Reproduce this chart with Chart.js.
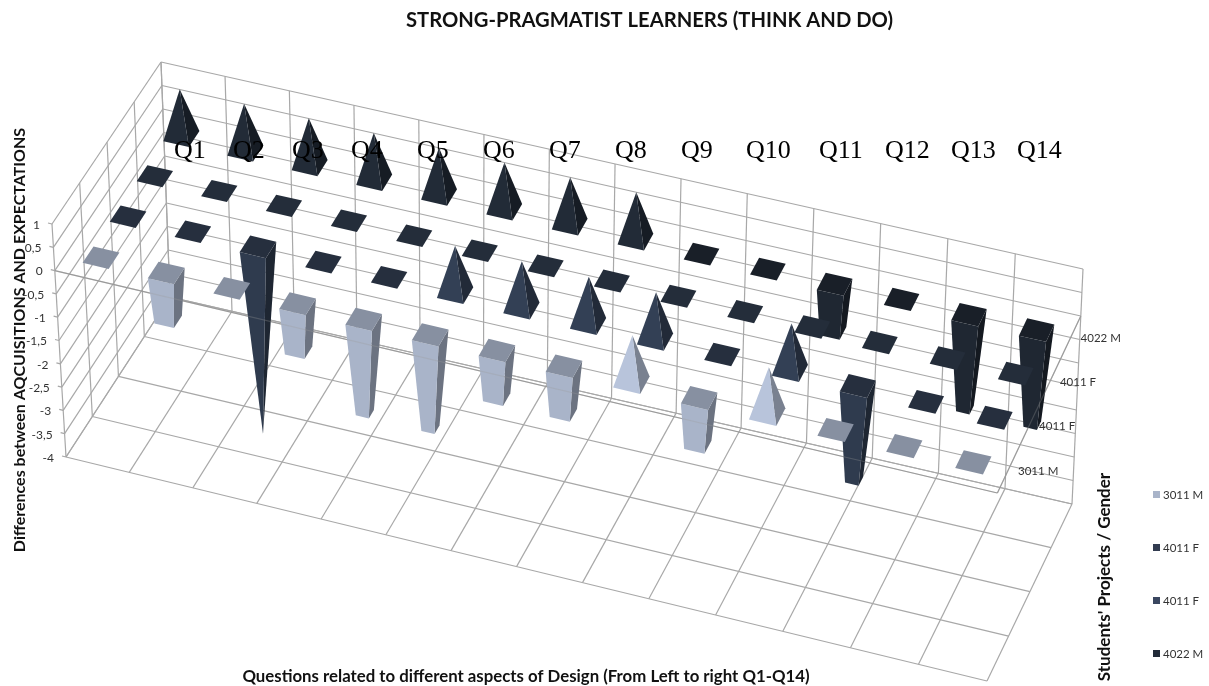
<!DOCTYPE html>
<html>
<head>
<meta charset="utf-8">
<title>Strong-pragmatist learners</title>
<style>
  html, body { margin: 0; padding: 0; background: #fff; }
  #wrap { width: 1209px; height: 686px; }
</style>
</head>
<body>
<div id="wrap"><canvas id="chart"></canvas></div>
<script src="https://cdn.jsdelivr.net/npm/chart.js@4/dist/chart.umd.js"></script>
<script>
const questions = ["Q1", "Q2", "Q3", "Q4", "Q5", "Q6", "Q7", "Q8", "Q9", "Q10", "Q11", "Q12", "Q13", "Q14"];
const seriesNames = ["3011 M", "4011 F", "4011 F", "4022 M"];

const values3011M = [0, -1, 0, -1, -2, -2, -1, -1, 1, -1, 1, 0, 0, 0];
const values4011Fa = [0, 0, -4, 0, 0, 1, 1, 1, 1, 0, 1, -2, 0, 0];
const values4011Fb = [0, 0, 0, 0, 0, 0, 0, 0, 0, 0, 0, 0, 0, 0];
const values4022M = [1, 1, 1, 1, 1, 1, 1, 1, 0, 0, -1, 0, -2, -2];

const faceColors = ["#a9b4c9", "#2f3b4e", "#2d3849", "#1f2732"];
const keyColors = ["#a9b4c9", "#323c50", "#3a4760", "#222b38"];

// left edge of each question caption above the plot
const questionTextX = [174, 233, 292, 351, 417, 483, 549, 615, 681, 746, 819, 885, 951, 1017];

// the plot box on screen: floor corners and top corners, front-left going round to back-left
const floorCorners = [[66, 457], [987, 681], [1072, 504], [170, 297]];
const topCorners = [[52, 224], [1000, 446], [1083, 269], [161, 62]];

const TEXT_FONT = "Lato";
const LABEL_COLOR = "#333";
const GRID_COLOR = "#a8a8a8";
const BAR_HALF = 0.2;
const PERSPECTIVE = 0.65; // 0 = plain bilinear, 1 = full homography

// square to quad map, softened towards bilinear
function quadMap(q) {
  const [[x0, y0], [x1, y1], [x2, y2], [x3, y3]] = q;
  const sx = x0 - x1 + x2 - x3;
  const sy = y0 - y1 + y2 - y3;
  const dx1 = x1 - x2, dx2 = x3 - x2, dy1 = y1 - y2, dy2 = y3 - y2;
  const det = dx1 * dy2 - dx2 * dy1;
  const g = (sx * dy2 - dx2 * sy) / det;
  const h = (dx1 * sy - sx * dy1) / det;
  const a = x1 - x0 + g * x1, b = x3 - x0 + h * x3;
  const d = y1 - y0 + g * y1, e = y3 - y0 + h * y3;
  return (u, w) => {
    const k = g * u + h * w + 1;
    const px = (a * u + b * w + x0) / k;
    const py = (d * u + e * w + y0) / k;
    const lx = x0 + (x1 - x0) * u + (x3 - x0) * w + sx * u * w;
    const ly = y0 + (y1 - y0) * u + (y3 - y0) * w + sy * u * w;
    return [lx + (px - lx) * PERSPECTIVE, ly + (py - ly) * PERSPECTIVE];
  };
}

// u along the questions, w from front to back, t from floor to top
function project(u, w, t) {
  const quad = floorCorners.map((p, i) => [
    p[0] + (topCorners[i][0] - p[0]) * t,
    p[1] + (topCorners[i][1] - p[1]) * t,
  ]);
  return quadMap(quad)(u, w);
}

function scaleFrac(scale, value) {
  const px = scale.getPixelForValue(value);
  return scale.isHorizontal() ? (px - scale.left) / scale.width : (scale.bottom - px) / scale.height;
}

function shade(hex, f) {
  const n = parseInt(hex.slice(1), 16);
  const c = [n >> 16, (n >> 8) & 255, n & 255].map((v) => Math.min(255, Math.round(v * f)));
  return `rgb(${c[0]},${c[1]},${c[2]})`;
}

function fillPoly(ctx, pts, color) {
  ctx.beginPath();
  pts.forEach((p, i) => (i ? ctx.lineTo(p[0], p[1]) : ctx.moveTo(p[0], p[1])));
  ctx.closePath();
  ctx.fillStyle = color;
  ctx.fill();
}

function line3d(ctx, a, b) {
  const p = project(a[0], a[1], a[2]);
  const q = project(b[0], b[1], b[2]);
  ctx.beginPath();
  ctx.moveTo(p[0], p[1]);
  ctx.lineTo(q[0], q[1]);
  ctx.stroke();
}

// Bars that taper away from the zero plane: a negative bar narrows towards the
// lowest value in the data, a positive one towards the highest.
class TaperedBar3DController extends Chart.BarController {
  static id = "taperedBar3d";
  static defaults = { ...Chart.BarController.defaults };
  static overrides = Chart.BarController.overrides;

  draw() {
    const { ctx, scales, data } = this.chart;
    const all = data.datasets.flatMap((d) => d.data);
    const hi = Math.max(...all);
    const lo = Math.min(...all);
    const row = this.index;
    const color = this.getDataset().backgroundColor;
    const { x, y, depth } = scales;

    this.getDataset().data.forEach((v, i) => {
      const limit = v > 0 ? hi : lo;
      const narrow = v === 0 ? 1 : 1 - v / limit;
      const ring = (value, half) => {
        const t = scaleFrac(y, value);
        const u0 = scaleFrac(x, i - half), u1 = scaleFrac(x, i + half);
        const w0 = scaleFrac(depth, row - half), w1 = scaleFrac(depth, row + half);
        return [project(u0, w0, t), project(u1, w0, t), project(u1, w1, t), project(u0, w1, t)];
      };
      const base = ring(0, BAR_HALF);
      const end = ring(v, BAR_HALF * narrow);

      if (v === 0) {
        fillPoly(ctx, base, shade(color, 0.8));
      } else {
        const lift = v > 0 ? 1.09 : 1;
        fillPoly(ctx, [base[1], base[2], end[2], end[1]], shade(color, 0.64 * (v > 0 ? 1.12 : 1)));
        fillPoly(ctx, [base[0], base[1], end[1], end[0]], shade(color, lift));
        if (v < 0) fillPoly(ctx, base, shade(color, 0.8));
      }
    });
  }
}
Chart.register(TaperedBar3DController);

function axisLines(ctx, chart, alpha) {
  const t0 = scaleFrac(chart.scales.y, 0);
  ctx.save();
  ctx.globalAlpha = alpha;
  ctx.strokeStyle = "#9a9a9a";
  ctx.lineWidth = 1.2;
  line3d(ctx, [0, 0, t0], [1, 0, t0]);
  line3d(ctx, [1, 0, t0], [1, 1, t0]);
  ctx.restore();
}

const plotBox = {
  id: "plotBox",
  beforeDatasetsDraw(chart) {
    const { ctx, scales } = chart;
    const { x, y, depth } = scales;
    ctx.save();
    ctx.strokeStyle = GRID_COLOR;
    ctx.lineWidth = 1.2;

    // value lines on the back and left walls
    y.ticks.forEach((tick) => {
      const t = scaleFrac(y, tick.value);
      const tip = project(0, 0, t);
      ctx.beginPath();
      ctx.moveTo(tip[0] - 4, tip[1] - 1);
      ctx.lineTo(tip[0], tip[1]);
      ctx.stroke();
      line3d(ctx, [0, 0, t], [0, 1, t]);
      line3d(ctx, [0, 1, t], [1, 1, t]);
    });

    // question boundaries on the floor and back wall
    questions.forEach((q, i) => {
      const u = scaleFrac(x, i - 0.5);
      line3d(ctx, [u, 0, 0], [u, 1, 0]);
      line3d(ctx, [u, 1, 0], [u, 1, 1]);
    });
    line3d(ctx, [1, 0, 0], [1, 1, 0]);
    line3d(ctx, [1, 1, 0], [1, 1, 1]);

    // series boundaries on the floor and left wall
    seriesNames.forEach((s, i) => {
      const w = scaleFrac(depth, i - 0.5);
      line3d(ctx, [0, w, 0], [1, w, 0]);
      line3d(ctx, [0, w, 0], [0, w, 1]);
    });
    line3d(ctx, [0, 1, 0], [1, 1, 0]);
    line3d(ctx, [0, 1, 0], [0, 1, 1]);
    ctx.restore();
    axisLines(ctx, chart, 1);
  },
  afterDatasetsDraw(chart) {
    axisLines(chart.ctx, chart, 0.3);
  },
  afterDraw(chart) {
    const { ctx, scales } = chart;
    const { y, depth } = scales;
    ctx.save();
    ctx.textBaseline = "middle";

    // value axis labels
    ctx.font = `12px ${TEXT_FONT}`;
    ctx.fillStyle = LABEL_COLOR;
    ctx.textAlign = "right";
    y.ticks.forEach((tick) => {
      const p = project(0, 0, scaleFrac(y, tick.value));
      ctx.fillText(tick.label, p[0] - 12, p[1] + 1);
    });

    // series labels along the right edge of the zero plane
    ctx.font = `11.5px ${TEXT_FONT}`;
    ctx.textAlign = "left";
    const t0 = scaleFrac(y, 0);
    seriesNames.forEach((s, i) => {
      const p = project(1, scaleFrac(depth, i), t0);
      ctx.fillText(s, p[0] + 10, p[1] + 1);
    });

    // key
    seriesNames.forEach((s, i) => {
      const top = 491 + i * 53;
      ctx.fillStyle = keyColors[i];
      ctx.fillRect(1153, top, 7, 7);
      ctx.fillStyle = LABEL_COLOR;
      ctx.fillText(s, 1163, top + 4);
    });

    // question captions
    ctx.font = '26px "Liberation Serif"';
    ctx.fillStyle = "#000";
    ctx.textBaseline = "alphabetic";
    questions.forEach((q, i) => ctx.fillText(q, questionTextX[i], 158));

    // axis titles
    ctx.fillStyle = "#111";
    ctx.textAlign = "center";
    ctx.textBaseline = "middle";
    ctx.font = `bold 16.8px ${TEXT_FONT}`;
    ctx.fillText("Questions related to different aspects of Design (From Left to right Q1-Q14)", 526, 677);
    ctx.save();
    ctx.font = `bold 16px ${TEXT_FONT}`;
    ctx.translate(20, 340);
    ctx.rotate(-Math.PI / 2);
    ctx.fillText("Differences between AQCUISITIONS AND EXPECTATIONS", 0, 0);
    ctx.restore();
    ctx.save();
    ctx.font = `bold 17px ${TEXT_FONT}`;
    ctx.translate(1105, 577);
    ctx.rotate(-Math.PI / 2);
    ctx.fillText("Students' Projects / Gender", 0, 0);
    ctx.restore();
    ctx.restore();
  },
};

new Chart(document.getElementById("chart"), {
  type: "taperedBar3d",
  data: {
    labels: questions,
    datasets: [values3011M, values4011Fa, values4011Fb, values4022M].map((data, i) => ({
      label: seriesNames[i],
      data,
      backgroundColor: faceColors[i],
      clip: false,
    })),
  },
  options: {
    responsive: true,
    maintainAspectRatio: false,
    animation: false,
    layout: { padding: { left: 90 } },
    plugins: {
      legend: { display: false },
      tooltip: { enabled: false },
      title: {
        display: true,
        text: "STRONG-PRAGMATIST LEARNERS (THINK AND DO)",
        fullSize: false,
        color: "#111",
        font: { family: TEXT_FONT, size: 20.2, weight: "bold" },
        padding: { top: 8, bottom: 6 },
      },
    },
    scales: {
      x: { type: "category", labels: questions, offset: true, display: false },
      y: {
        type: "linear",
        min: -4,
        max: 1,
        display: false,
        ticks: {
          stepSize: 0.5,
          autoSkip: false,
          callback: (v) => String(v).replace(".", ","),
        },
      },
      depth: { type: "category", axis: "x", position: "bottom", labels: seriesNames, offset: true, display: false },
    },
  },
  plugins: [plotBox],
});
</script>
</body>
</html>
